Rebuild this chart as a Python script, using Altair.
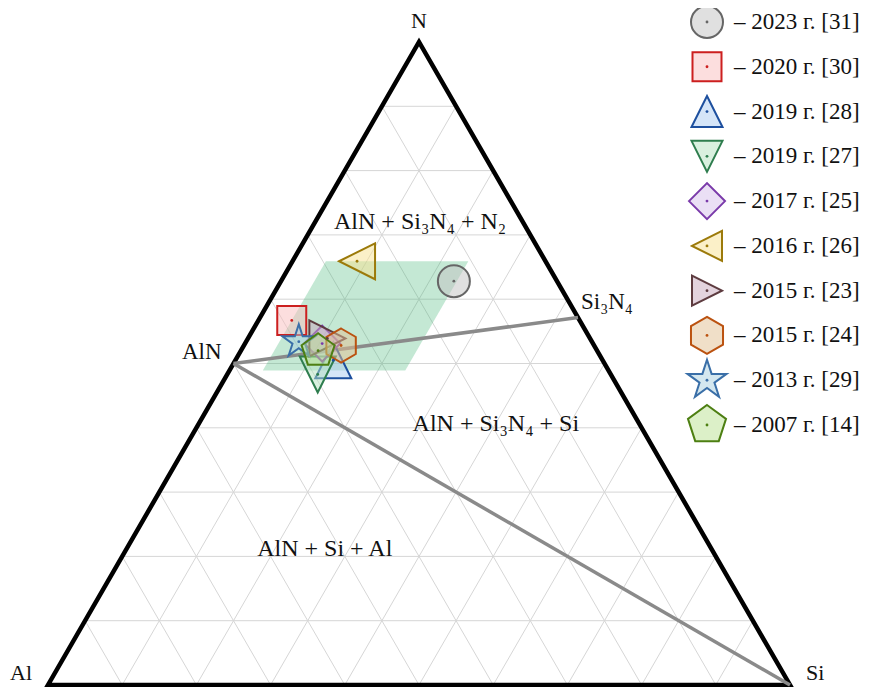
import math
import altair as alt
import pandas as pd

# ---------------- data ----------------
labels = ["– 2023 г. [31]", "– 2020 г. [30]", "– 2019 г. [28]", "– 2019 г. [27]",
          "– 2017 г. [25]", "– 2016 г. [26]", "– 2015 г. [23]", "– 2015 г. [24]",
          "– 2013 г. [29]", "– 2007 г. [14]"]
# composition (atomic fractions) of each reported material
si_frac = [0.233, 0.045, 0.132, 0.122, 0.104, 0.087, 0.107, 0.131, 0.071, 0.104]
n_frac = [0.628, 0.567, 0.505, 0.483, 0.531, 0.659, 0.539, 0.528, 0.534, 0.520]

# compound / phase points (Si, N fractions)
vertex_names = ["Al", "Si", "N"]
vertex_si = [0.0, 1.0, 0.0]
vertex_n = [0.0, 0.0, 1.0]
aln_si, aln_n = 0.0, 0.5
si3n4_si, si3n4_n = 3 / 7, 4 / 7

# region of compositions (Si range, N range)
region_si = [0.045, 0.237]
region_n = [0.489, 0.659]

region_labels = ["AlN + Si₃N₄ + N₂", "AlN + Si₃N₄ + Si", "AlN + Si + Al"]
region_label_si = [0.147, 0.406, 0.273]
region_label_n = [0.709, 0.395, 0.200]

grid_steps = [k / 10 for k in range(1, 10)]

# ---------------- styles ----------------
def star_path(n=5, inner=0.381966):
    pts = []
    for k in range(2 * n):
        a = math.radians(-90 + 180.0 / n * k)
        r = 1.0 if k % 2 == 0 else inner
        pts.append((r * math.cos(a), r * math.sin(a)))
    return "M" + "L".join(f"{x:.4f},{y:.4f}" for x, y in pts) + "Z"

def poly_path(n, start=-90):
    pts = []
    for k in range(n):
        a = math.radians(start + 360.0 / n * k)
        pts.append((math.cos(a), math.sin(a)))
    return "M" + "L".join(f"{x:.4f},{y:.4f}" for x, y in pts) + "Z"

shapes = ["circle", "square", "M0,-1L1,1L-1,1Z", "M0,1L1,-1L-1,-1Z", "diamond",
          "M-1,0L1,-1L1,1Z", "M1,0L-1,-1L-1,1Z", poly_path(6), star_path(), poly_path(5)]
strokes = ["#666666", "#cc1f1f", "#1d4f9e", "#2e7d4e", "#7a3aaa",
           "#9c7a0a", "#5e3c40", "#bb5210", "#3a6fa8", "#4d7f12"]
fills_on_white = [(224, 224, 224), (252, 222, 222), (213, 229, 248), (217, 240, 223),
                  (234, 223, 245), (251, 240, 200), (227, 211, 221), (240, 223, 200),
                  (212, 231, 239), (220, 240, 200)]
FILL_ALPHA = 0.5
fills = ["#%02x%02x%02x" % tuple(max(0, int(round(255 - (255 - c) / FILL_ALPHA))) for c in f)
         for f in fills_on_white]
plot_sizes = [1024, 841, 1296, 1296, 1296, 1296, 1296, 1156, 1204, 1204]
legend_sizes = [1024, 841, 961, 961, 1296, 900, 900, 1369, 1681, 1600]

FONT = "Liberation Serif"

# ---------------- scales ----------------
X0, X1 = 40, 782
Y0, Y1 = 677, 34
XS = alt.Scale(domain=[0, 1], range=[X0, X1], nice=False, zero=False)
YS = alt.Scale(domain=[0, 1], range=[Y0, Y1], nice=False, zero=False)

def tx(si, n):
    return si + n / 2.0

def X(f):
    return alt.X(f, type="quantitative", scale=XS, axis=None)

def Y(f):
    return alt.Y(f, type="quantitative", scale=YS, axis=None)

# ---------------- layers ----------------
grid_rows = []
for v in grid_steps:
    grid_rows.append(dict(x=tx(0, v), y=v, x2=tx(1 - v, v), y2=v))
    grid_rows.append(dict(x=tx(v, 0), y=0, x2=tx(v, 1 - v), y2=1 - v))
    grid_rows.append(dict(x=tx(1 - v, 0), y=0, x2=tx(0, 1 - v), y2=1 - v))
grid = alt.Chart(pd.DataFrame(grid_rows)).mark_rule(color="#d6d6d6", strokeWidth=1).encode(
    x=X("x"), y=Y("y"), x2="x2", y2="y2")

region_df = pd.DataFrame({
    "y": region_n,
    "xl": [tx(region_si[0], n) for n in region_n],
    "xr": [tx(region_si[1], n) for n in region_n],
})
region = alt.Chart(region_df).mark_area(orient="horizontal", color="#3cb371", opacity=0.3).encode(
    y=Y("y"), x=X("xl"), x2="xr")

# hatch lines (45 deg on screen) clipped to the region
XPIX, YPIX = X1 - X0, Y0 - Y1
hatch_rows = []
s0, s1 = region_si
n0, n1 = region_n
cmin = X0 + XPIX * tx(s0, n1) + Y0 - YPIX * n1
cmax = X0 + XPIX * tx(s1, n0) + Y0 - YPIX * n0
c = cmin + 4
while c < cmax:
    k = XPIX / 2 - YPIX
    rhs = c - X0 - Y0
    n_lo = max(n0, (rhs - XPIX * s1) / k)
    n_hi = min(n1, (rhs - XPIX * s0) / k)
    if n_lo < n_hi:
        si_a = (rhs - k * n_lo) / XPIX
        si_b = (rhs - k * n_hi) / XPIX
        hatch_rows.append(dict(x=tx(si_a, n_lo), y=n_lo, x2=tx(si_b, n_hi), y2=n_hi))
    c += 8
hatch = alt.Chart(pd.DataFrame(hatch_rows)).mark_rule(color="#7fcfa2", strokeWidth=0.6, opacity=0.6).encode(
    x=X("x"), y=Y("y"), x2="x2", y2="y2")

# outline (start mid bottom so all corners are joined)
outline_df = pd.DataFrame({
    "x": [0.5, tx(vertex_si[1], vertex_n[1]), tx(vertex_si[2], vertex_n[2]),
          tx(vertex_si[0], vertex_n[0]), 0.5],
    "y": [0.0, vertex_n[1], vertex_n[2], vertex_n[0], 0.0],
    "o": [0, 1, 2, 3, 4],
})
outline = alt.Chart(outline_df).mark_line(color="black", strokeWidth=4.5, strokeJoin="miter").encode(
    x=X("x"), y=Y("y"), order="o:Q")

tie_df = pd.DataFrame({
    "x": [tx(aln_si, aln_n), tx(aln_si, aln_n)],
    "y": [aln_n, aln_n],
    "x2": [tx(si3n4_si, si3n4_n), tx(vertex_si[1], vertex_n[1])],
    "y2": [si3n4_n, vertex_n[1]],
})
ties = alt.Chart(tie_df).mark_rule(color="#8a8a8a", strokeWidth=3.5).encode(
    x=X("x"), y=Y("y"), x2="x2", y2="y2")

pts_df = pd.DataFrame({
    "label": labels,
    "x": [tx(s, n) for s, n in zip(si_frac, n_frac)],
    "y": n_frac,
    "shape": shapes, "stroke": strokes, "fill": fills,
    "psize": plot_sizes, "lsize": legend_sizes,
    "o": list(range(len(labels))),
})
points = alt.Chart(pts_df).mark_point(filled=True, opacity=1, fillOpacity=FILL_ALPHA,
                                      strokeOpacity=1, strokeWidth=2).encode(
    x=X("x"), y=Y("y"),
    shape=alt.Shape("shape:N", scale=None),
    fill=alt.Fill("fill:N", scale=None),
    stroke=alt.Stroke("stroke:N", scale=None),
    size=alt.Size("psize:Q", scale=None),
    order="o:Q")
dots = alt.Chart(pts_df).mark_point(filled=True, opacity=1, shape="circle", size=8).encode(
    x=X("x"), y=Y("y"), fill=alt.Fill("stroke:N", scale=None), order="o:Q")

# legend
LY = alt.Y("label:N", sort=labels, axis=None,
           scale=alt.Scale(type="point", domain=labels, range=[14, 417], padding=0))
leg_sym = alt.Chart(pts_df).mark_point(filled=True, opacity=1, fillOpacity=FILL_ALPHA,
                                       strokeOpacity=1, strokeWidth=2).encode(
    x=alt.value(699), y=LY,
    shape=alt.Shape("shape:N", scale=None),
    fill=alt.Fill("fill:N", scale=None),
    stroke=alt.Stroke("stroke:N", scale=None),
    size=alt.Size("lsize:Q", scale=None))
leg_dot = alt.Chart(pts_df).mark_point(filled=True, opacity=1, shape="circle", size=8).encode(
    x=alt.value(699), y=LY, fill=alt.Fill("stroke:N", scale=None))
leg_txt = alt.Chart(pts_df).mark_text(align="left", baseline="middle", font=FONT, fontSize=23,
                                      color="#111111").encode(
    x=alt.value(726), y=LY, text="label:N")

def label_layer(text, si, n, align, dx, dy, size):
    df = pd.DataFrame({"t": [text], "x": [tx(si, n)], "y": [n]})
    return alt.Chart(df).mark_text(align=align, baseline="alphabetic", dx=dx, dy=dy,
                                   font=FONT, fontSize=size, color="#111111").encode(
        x=X("x"), y=Y("y"), text="t:N")

texts = [
    label_layer(vertex_names[0], vertex_si[0], vertex_n[0], "right", -16, -5, 22),
    label_layer(vertex_names[1], vertex_si[1], vertex_n[1], "left", 16, -5, 22),
    label_layer(vertex_names[2], vertex_si[2], vertex_n[2], "center", 0, -14, 22),
    label_layer("AlN", aln_si, aln_n, "right", -12, -5, 23),
    label_layer("Si₃N₄", si3n4_si, si3n4_n, "left", 3, -9, 23),
]
for t, s, n in zip(region_labels, region_label_si, region_label_n):
    texts.append(label_layer(t, s, n, "center", 0, 0, 24))

chart = alt.layer(grid, region, hatch, outline, ties, points, dots, *texts,
                  leg_sym, leg_dot, leg_txt).resolve_scale(
    y="independent", x="independent"
).properties(width=853, height=679, padding=0, autosize="none").configure_view(stroke=None)

chart.save("out.html", embed_options={"renderer": "svg", "actions": False})
